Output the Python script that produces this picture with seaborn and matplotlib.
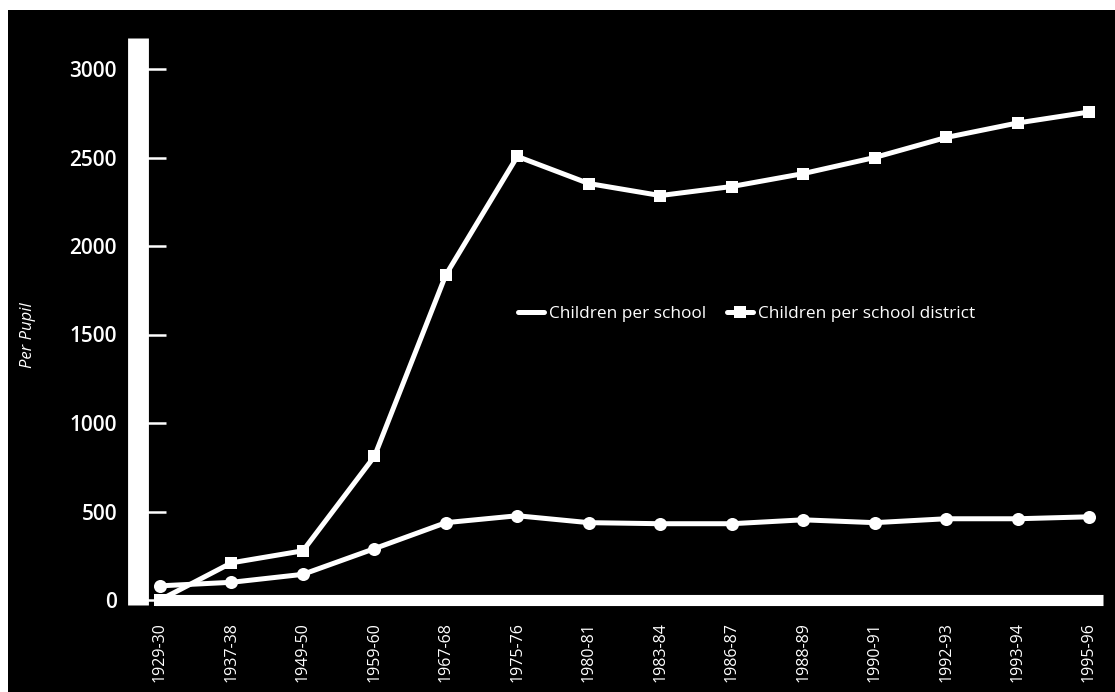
import numpy as np
import pandas as pd
import matplotlib
matplotlib.use('Agg')
import matplotlib.pyplot as plt
from matplotlib.lines import Line2D
from matplotlib.patches import Rectangle
import seaborn as sns

# 数据
periods = ['1929-30', '1937-38', '1949-50', '1959-60', '1967-68', '1975-76', '1980-81',
           '1983-84', '1986-87', '1988-89', '1990-91', '1992-93', '1993-94', '1995-96']
per_school = [80, 100, 145, 290, 437, 476, 437, 431, 431, 453, 437, 459, 459, 470]
per_district = [0, 210, 278, 811, 1837, 2506, 2353, 2285, 2336, 2409, 2500, 2613, 2695, 2757]
y_ticks = [0, 500, 1000, 1500, 2000, 2500, 3000]

sns.set_theme(style='dark')
plt.rcParams['font.family'] = ['Open Sans', 'DejaVu Sans']

W, H = 1115, 692
fig = plt.figure(figsize=(W / 100, H / 100), dpi=100, facecolor='white')

# 黑色背景区域（放在坐标轴下面）
fig.patches.append(Rectangle((8 / W, 0), 1, (H - 10) / H, transform=fig.transFigure,
                             facecolor='black', edgecolor='none', zorder=-10))

px_per_unit_y = 531 / 3000
y_lo, y_hi = -30, (600 - 38) / px_per_unit_y
ax_left, ax_right = 137.5, 1103
ax_bottom = 600 + 30 * px_per_unit_y
ax_top = 38
ax = fig.add_axes([ax_left / W, (H - ax_bottom) / H, (ax_right - ax_left) / W, (ax_bottom - ax_top) / H])
ax.set_facecolor('black')
ax.set_zorder(1)

x_pos = np.arange(len(periods))
df = pd.DataFrame({'pos': x_pos, 'school': per_school, 'district': per_district})

sns.lineplot(data=df, x='pos', y='school', ax=ax, color='white', linewidth=3.6,
             marker='o', markersize=9.4, markeredgewidth=0, sort=False, zorder=3)
sns.lineplot(data=df, x='pos', y='district', ax=ax, color='white', linewidth=3.6,
             marker='s', markersize=8.8, markeredgewidth=0, sort=False, zorder=3)

ax.set_xlim(-0.315, 13.196)
ax.set_ylim(y_lo, y_hi)
ax.grid(False)

# 坐标轴线：粗白线
for side in ['top', 'right']:
    ax.spines[side].set_visible(False)
ax.spines['left'].set_color('white')
ax.spines['left'].set_linewidth(15)
ax.spines['left'].set_capstyle('butt')
ax.spines['left'].set_bounds(-30, y_hi)
ax.spines['bottom'].set_color('white')
ax.spines['bottom'].set_linewidth(8)
ax.spines['bottom'].set_capstyle('butt')
ax.spines['bottom'].set_position(('data', 0))
ax.spines['bottom'].set_bounds(-0.07, 13.196)

ax.set_yticks(y_ticks)
ax.set_yticklabels([str(v) for v in y_ticks], fontsize=15, fontweight='semibold', color='white')
ax.tick_params(axis='y', direction='in', length=19.8, width=1.8, color='white', pad=14.8, left=True)
ax.set_xticks(x_pos)
ax.set_xticklabels(periods, rotation=90, fontsize=11.5, color='white', va='top')
ax.tick_params(axis='x', length=0, pad=16)
ax.set_xlabel('')
ax.set_ylabel('')

fig.text(28.5 / W, 1 - 335 / H, 'Per Pupil', rotation=90, ha='center', va='center',
         fontsize=12, fontstyle='italic', color='white')

handles = [Line2D([], [], color='white', linewidth=3.6),
           Line2D([], [], color='white', linewidth=3.6, marker='s', markersize=8.8, markeredgewidth=0)]
leg = fig.legend(handles, ['Children per school', 'Children per school district'],
                 loc='center left', bbox_to_anchor=(518 / W, 1 - 314 / H), ncol=2, frameon=False,
                 fontsize=12.4, handlelength=1.5, handletextpad=0.3, columnspacing=1.2,
                 borderpad=0, borderaxespad=0)
leg.set_zorder(5)
for t in leg.get_texts():
    t.set_color('white')

fig.savefig('out.png', dpi=100, facecolor='white')
